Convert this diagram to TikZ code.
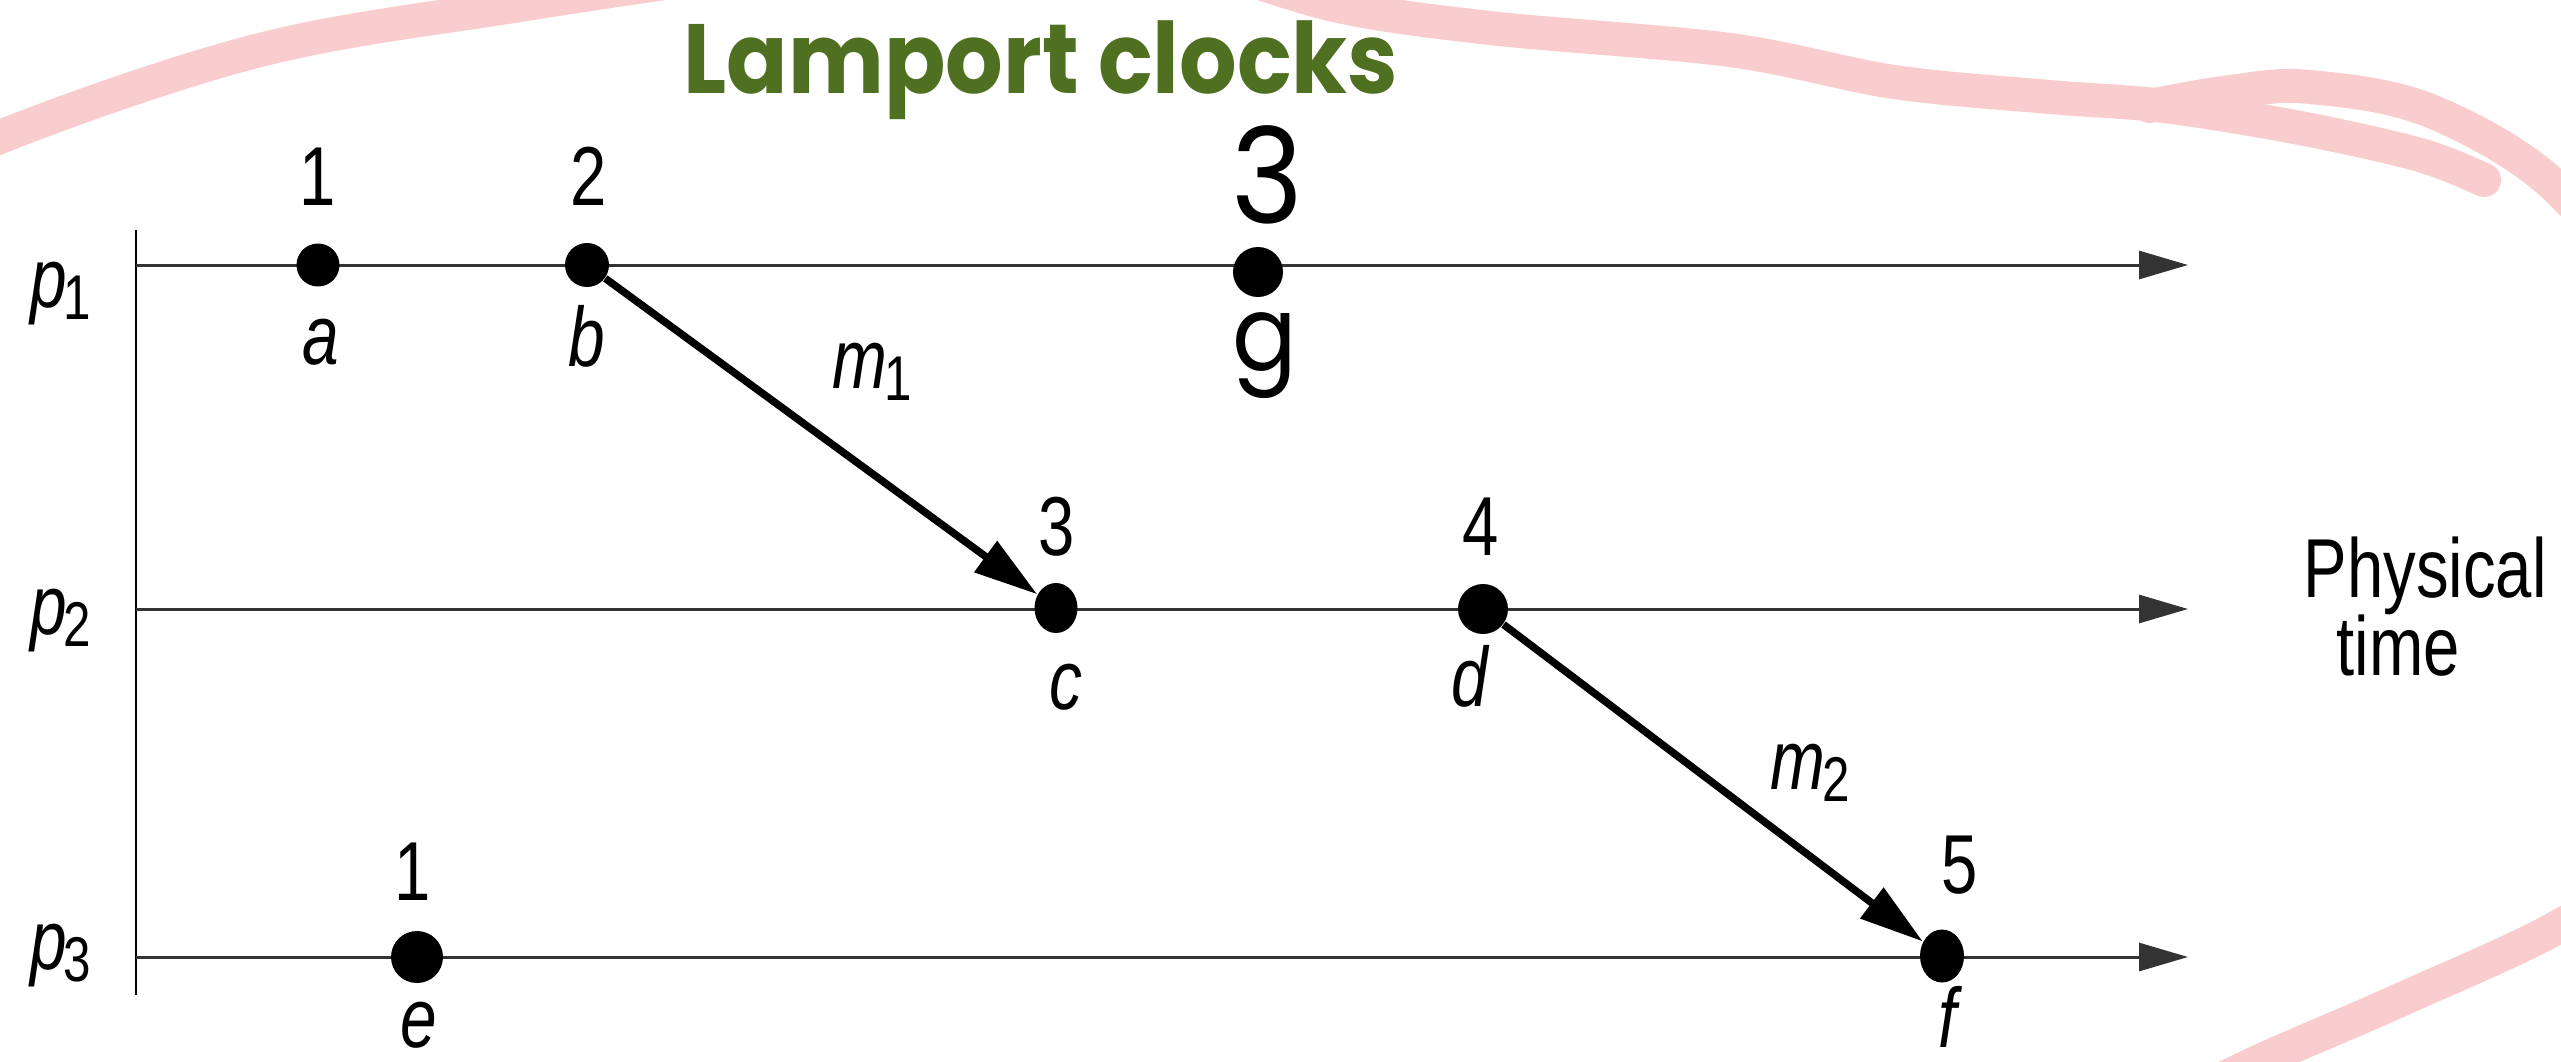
\documentclass[tikz,border=0pt]{standalone}
\usepackage{fontspec}
\usetikzlibrary{arrows.meta,shapes.geometric}
\newfontfamily\cond[FakeStretch=0.78]{Liberation Sans}
\newfontfamily\geo[FakeStretch=0.92]{Poppins}
\newfontfamily\titlefont[FakeStretch=0.92]{Poppins}
\definecolor{lamportgreen}{RGB}{78,112,32}
\definecolor{penpink}{RGB}{249,205,206}
\newcommand\lsub[1]{\kern-1pt{\upshape\fontsize{18}{20}\selectfont\raisebox{-3.6pt}{#1}}}
\begin{document}
\begin{tikzpicture}[x=0.1mm,y=-0.1mm,
  evdot/.style={circle,fill=black,inner sep=0pt,minimum size=#1},
  evoval/.style n args={2}{ellipse,fill=black,inner sep=0pt,minimum width=#1,minimum height=#2},
  num/.style={font=\cond\fontsize{23.8}{28}\selectfont,inner sep=0pt,anchor=base},
  evlab/.style={font=\cond\itshape\fontsize{24}{28}\selectfont,inner sep=0pt,anchor=base},
  plab/.style={font=\cond\itshape\fontsize{24}{28}\selectfont,inner sep=0pt,anchor=base west},
  ptime/.style={font=\cond\fontsize{23.8}{28}\selectfont,inner sep=0pt,anchor=base west},
  timeline/.style={draw=black!80,line width=0.3mm,-{Triangle[length=4.9mm,width=2.8mm]}},
  msg/.style={draw=black,line width=0.75mm,-{Triangle[length=6.4mm,width=3.7mm]}},
  pen/.style={draw=penpink,line width=3.4mm,line cap=round,line join=round}
]
\useasboundingbox (0,0) rectangle (2561,1061);
\clip (0,0) rectangle (2561,1061);

% hand-drawn pink loop
\draw[pen] plot[smooth,tension=0.6] coordinates {(-90,190) (0,137) (260,50) (520,5) (720,-25)};
\draw[pen] plot[smooth,tension=0.55] coordinates {(1180,-45) (1330,4) (1490,28) (1730,50) (1894,82) (2050,97) (2164,106) (2300,128) (2420,155) (2484,180)};
\draw[pen] plot[smooth,tension=0.6] coordinates {(2150,106) (2230,92) (2310,87) (2433,112) (2561,192) (2640,320) (2700,600) (2640,860) (2561,925) (2400,1000) (2260,1061) (2160,1110)};

% axis and timelines
\coordinate (axtop) at (136,230);
\coordinate (axbot) at (136,995);
\draw[black,line width=0.2mm] (axtop) -- (axbot);
\coordinate (s1) at (136,265); \coordinate (t1) at (2188,265);
\coordinate (s2) at (136,609); \coordinate (t2) at (2188,609);
\coordinate (s3) at (136,957); \coordinate (t3) at (2188,957);
\draw[timeline] (s1) -- (t1);
\draw[timeline] (s2) -- (t2);
\draw[timeline] (s3) -- (t3);

% events
\node[evdot=4.3mm] (a) at (318,265) {};
\node[evdot=4.4mm] (b) at (587,265) {};
\node[evdot=5.0mm] (g) at (1258,272) {};
\node[evoval={4.3mm}{5.0mm}] (c) at (1056,608) {};
\node[evdot=5.0mm] (d) at (1483,609) {};
\node[evdot=5.2mm] (e) at (417,957) {};
\node[evoval={4.4mm}{5.3mm}] (f) at (1942,956) {};

% messages
\draw[msg] (b) -- (c);
\draw[msg] (d) -- (f);

% process labels
\node[plab] (p1lab) at (30,307) {p\lsub{1}};
\node[plab] (p2lab) at (30,634) {p\lsub{2}};
\node[plab] (p3lab) at (30,969) {p\lsub{3}};

% message labels
\node[plab] (m1lab) at (832,388) {m\lsub{1}};
\node[plab] (m2lab) at (1770,789) {m\lsub{2}};

% clock values
\node[num] (ca) at (318,205) {1};
\node[num] (cb) at (589,205) {2};
\node[num] (cc) at (1057,555) {3};
\node[num] (cd) at (1481,555) {4};
\node[num] (ce) at (413,900) {1};
\node[num] (cf) at (1960,893) {5};

% event names
\node[evlab] (la) at (321,364) {a};
\node[evlab] (lb) at (587,366) {b};
\node[evlab] (lc) at (1066,709) {c};
\node[evlab] (ld) at (1470,706) {d};
\node[evlab] (le) at (419,1047) {e};
\node[evlab] (lf) at (1948,1047) {f};

% added event g
\node[font=\geo\fontsize{37.8}{40}\selectfont,inner sep=0pt,anchor=base] (cg) at (1267,223) {3};
\node[font=\geo\fontsize{29.6}{32}\selectfont,inner sep=0pt,anchor=base] (lg) at (1265,370) {g};

% physical time
\node[ptime] (phys) at (2303,597) {Physical};
\node[ptime] (ptm) at (2336,675) {time};

% title
\node[font=\titlefont\bfseries\fontsize{28}{32}\selectfont,text=lamportgreen,inner sep=0pt,anchor=base] (title) at (1041,93) {Lamport clocks};
\end{tikzpicture}
\end{document}
